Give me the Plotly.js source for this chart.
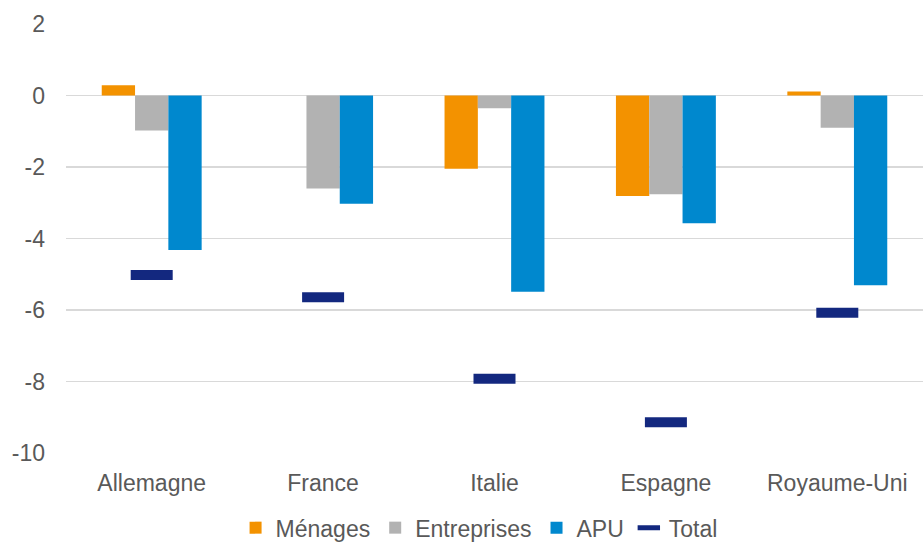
<!DOCTYPE html>
<html>
<head>
<meta charset="utf-8">
<script src="https://cdn.plot.ly/plotly-3.0.1.min.js"></script>
<style>html,body{margin:0;padding:0;background:#fff;}#chart{width:923px;height:544px;}</style>
</head>
<body>
<div id="chart"></div>
<script>
const categories = ["Allemagne", "France", "Italie", "Espagne", "Royaume-Uni"];
const menages = [0.29, 0, -2.05, -2.81, 0.11];
const entreprises = [-0.98, -2.60, -0.36, -2.76, -0.90];
const apu = [-4.32, -3.03, -5.49, -3.57, -5.31];
const total = [-5.02, -5.64, -7.92, -9.14, -6.08];
const yTicks = [2, 0, -2, -4, -6, -8, -10];

const font = {family: "Liberation Sans, Arial, sans-serif", size: 23, color: "#595959"};

const traces = [
  {type: "bar", name: "Ménages", x: categories, y: menages, marker: {color: "#F39200"}},
  {type: "bar", name: "Entreprises", x: categories, y: entreprises, marker: {color: "#B2B2B2"}},
  {type: "bar", name: "APU", x: categories, y: apu, marker: {color: "#0088CE"}},
  {type: "scatter", mode: "markers", name: "Total", x: categories, y: total,
   marker: {symbol: "line-ew", size: 30, color: "#13287F", line: {color: "#13287F", width: 10}}}
];

const layout = {
  width: 923, height: 544,
  margin: {l: 66, r: 0, t: 24, b: 91, autoexpand: false},
  paper_bgcolor: "#fff", plot_bgcolor: "#fff",
  font: font,
  barmode: "group", bargap: 0.417, bargroupgap: 0,
  showlegend: true,
  legend: {orientation: "h", x: 0.482, xanchor: "center", y: -0.124, yanchor: "top",
           font: font, itemwidth: 30, traceorder: "normal"},
  xaxis: {type: "category", showgrid: false, zeroline: false, showline: false,
          ticks: "", ticklabelstandoff: 14, tickfont: font},
  yaxis: {range: [-10, 2], tickvals: yTicks, ticktext: yTicks.map(String),
          showgrid: true, gridcolor: "#D9D9D9", gridwidth: 1.5,
          zeroline: false, showline: false, ticks: "", ticklabelstandoff: 20, tickfont: font}
};

Plotly.newPlot("chart", traces, layout, {displayModeBar: false, staticPlot: true});
</script>
</body>
</html>
